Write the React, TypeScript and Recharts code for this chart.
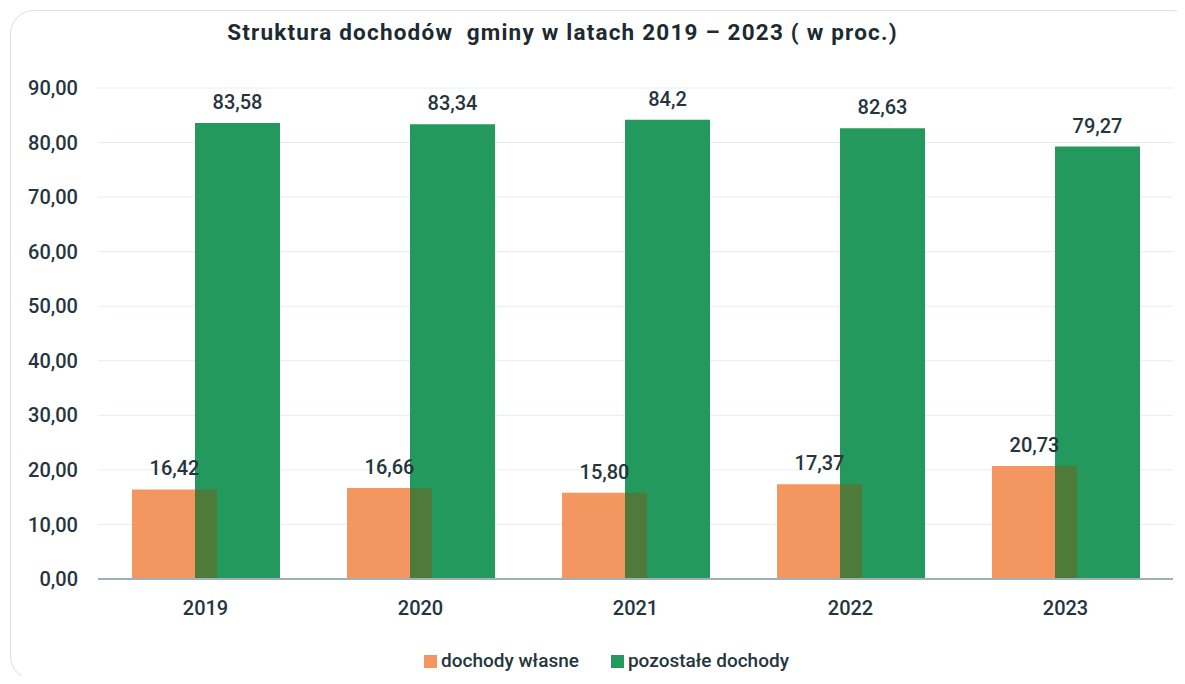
import { Bar, BarChart, CartesianGrid, LabelList, Legend, Rectangle, XAxis, YAxis } from "recharts";

const years = ["2019", "2020", "2021", "2022", "2023"];
const wlasne = [16.42, 16.66, 15.8, 17.37, 20.73];
const pozostale = [83.58, 83.34, 84.2, 82.63, 79.27];
const wlasneLabels = ["16,42", "16,66", "15,80", "17,37", "20,73"];
const pozostaleLabels = ["83,58", "83,34", "84,2", "82,63", "79,27"];
const yTicks = [0, 10, 20, 30, 40, 50, 60, 70, 80, 90];

const data = years.map((year, i) => ({
  year,
  wlasne: wlasne[i],
  pozostale: pozostale[i],
  wlasneLabel: wlasneLabels[i],
  pozostaleLabel: pozostaleLabels[i],
}));

const font = "Roboto, 'Open Sans', sans-serif";
const textColor = "#26353d";
const BAR_SIZE = 85;
const BAR_GAP = -22;
const labelStyle = { fill: textColor, fontSize: 20, fontWeight: 500, fontFamily: font };

// green bar drawn over the orange one; the overlapping strip gets a darker olive tone
function GreenShape(props: any) {
  const { x, y, width, height, payload } = props;
  const ratio = payload.wlasne / payload.pozostale;
  const overlapH = height * ratio;
  return (
    <g>
      <Rectangle x={x} y={y} width={width} height={height} fill="#23995d" />
      <rect x={x} y={y + height - overlapH} width={-BAR_GAP} height={overlapH} fill="#4e7b3a" />
    </g>
  );
}

export default function App() {
  return (
    <div style={{ position: "relative", width: 1185, height: 684, margin: -8, background: "#fff", fontFamily: font }}>
      <div
        style={{
          position: "absolute",
          left: 10,
          top: 10,
          width: 1185,
          height: 670,
          border: "1px solid #d9e1e5",
          borderRadius: 24,
          boxSizing: "border-box",
        }}
      />
      <div
        style={{
          position: "absolute",
          left: 0,
          width: 1125,
          top: 19,
          textAlign: "center",
          fontSize: 22.5,
          fontWeight: 700,
          color: "#1d2a30",
          letterSpacing: 1.2,
          whiteSpace: "pre",
        }}
      >
        {"Struktura dochodów  gminy w latach 2019 – 2023 ( w proc.)"}
      </div>
      <div style={{ position: "absolute", left: 0, top: 0 }}>
        <BarChart
          width={1185}
          height={684}
          data={data}
          margin={{ top: 88, right: 12, left: 0, bottom: 52 }}
          barSize={BAR_SIZE}
          barGap={BAR_GAP}
        >
          <CartesianGrid vertical={false} stroke="#e6edf1" />
          <XAxis
            dataKey="year"
            tickLine={false}
            axisLine={{ stroke: "#9fb0ba", strokeWidth: 2 }}
            tick={labelStyle}
            tickMargin={16}
          />
          <YAxis
            width={98}
            domain={[0, 90]}
            ticks={yTicks}
            interval={0}
            axisLine={false}
            tickLine={false}
            tickMargin={14}
            tickFormatter={(v: number) => v.toFixed(2).replace(".", ",")}
            tick={labelStyle}
          />
          <Legend
            verticalAlign="bottom"
            align="center"
            iconType="square"
            iconSize={13}
            wrapperStyle={{ bottom: 12, left: 36, fontSize: 19, fontWeight: 500, fontFamily: font }}
            formatter={(value: string) => <span style={{ color: textColor, marginRight: 22 }}>{value}</span>}
          />
          <Bar dataKey="wlasne" name="dochody własne" fill="#f4965f" isAnimationActive={false}>
            <LabelList dataKey="wlasneLabel" position="top" offset={14} style={labelStyle} />
          </Bar>
          <Bar
            dataKey="pozostale"
            name="pozostałe dochody"
            fill="#23995d"
            isAnimationActive={false}
            shape={<GreenShape />}
          >
            <LabelList dataKey="pozostaleLabel" position="top" offset={14} style={labelStyle} />
          </Bar>
        </BarChart>
      </div>
    </div>
  );
}
